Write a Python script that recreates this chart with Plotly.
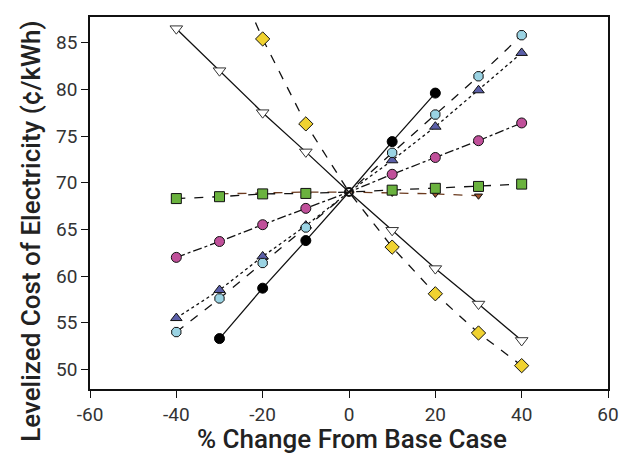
import plotly.graph_objects as go

x_vals = [-40, -30, -20, -10, 0, 10, 20, 30, 40]

black_x = [-30, -20, -10, 0, 10, 20]
black_y = [53.3, 58.7, 63.8, 69.0, 74.4, 79.6]

yellow_x = [-30, -20, -10, 0, 10, 20, 30, 40]
yellow_y = [96.0, 85.4, 76.3, 69.0, 63.1, 58.1, 53.9, 50.4]

tri_down_y = [86.5, 82.0, 77.5, 73.3, 69.0, 64.9, 60.8, 57.0, 53.1]
green_y = [68.3, 68.5, 68.8, 68.85, 69.0, 69.2, 69.4, 69.6, 69.85]
brown_x = [-30, -20, -10, 0, 10, 20, 30]
brown_y = [68.8, 68.9, 69.0, 69.0, 68.9, 68.8, 68.6]
magenta_y = [62.0, 63.7, 65.5, 67.25, 69.0, 70.9, 72.7, 74.5, 76.4]
cyan_y = [54.0, 57.6, 61.4, 65.2, 69.0, 73.2, 77.3, 81.4, 85.8]
blue_y = [55.5, 58.5, 62.1, 65.4, 69.0, 72.4, 76.0, 79.9, 83.9]

base_x = [0]
base_y = [69.0]

x_ticks = [-60, -40, -20, 0, 20, 40, 60]
y_ticks = [50, 55, 60, 65, 70, 75, 80, 85]

x_title = "% Change From Base Case"
y_title = "Levelized Cost of Electricity (¢/kWh)"


def sizes(xs, s):
    return [0 if v == 0 else s for v in xs]


fig = go.Figure()


def add(xs, ys, color, symbol, dash, size=9, lcolor="#111", lw=1.3, mline="#111"):
    fig.add_trace(go.Scatter(
        x=xs, y=ys, mode="lines+markers",
        line=dict(color=lcolor, width=lw, dash=dash),
        marker=dict(symbol=symbol, size=sizes(xs, size), color=color, opacity=1,
                    line=dict(color=mline, width=1)),
        showlegend=False))


add(brown_x, brown_y, "#a0522d", "triangle-down", "dash", size=7, lcolor="#6b3a1e")
add(x_vals, green_y, "#6ab23e", "square", "dash", size=10)
add(x_vals, magenta_y, "#c0509a", "circle", "dashdot", size=10)
add(x_vals, blue_y, "#5b5fa8", "triangle-up", "dot", size=10)
add(x_vals, cyan_y, "#9ad3e3", "octagon", "dash", size=10)
add(black_x, black_y, "#000000", "circle", "solid", size=10, mline="#000")
add(x_vals, tri_down_y, "#ffffff", "triangle-down", "solid", size=11, mline="#333")
add(yellow_x, yellow_y, "#f0d230", "diamond", "dash", size=11)

fig.add_trace(go.Scatter(x=base_x, y=base_y, mode="markers",
                         marker=dict(symbol="circle-open", size=8, color="#111",
                                     line=dict(width=2)),
                         showlegend=False))

tick_font = dict(family="Roboto, Arial, sans-serif", size=19, color="#333")
title_font = dict(family="Roboto, Arial, sans-serif", size=26, color="#222", weight=500)

fig.update_layout(
    width=621, height=455,
    margin=dict(l=90, r=13, t=17, b=66),
    paper_bgcolor="white", plot_bgcolor="white",
    xaxis=dict(range=[-60, 60], tickvals=x_ticks, ticktext=[str(v) for v in x_ticks],
               showgrid=False, zeroline=False, showline=True, linecolor="#111",
               linewidth=1.5, mirror=True, ticks="outside", ticklen=7,
               tickcolor="#111", tickfont=tick_font, automargin=False),
    yaxis=dict(range=[47.9, 87.75], tickvals=y_ticks, ticktext=[str(v) for v in y_ticks],
               showgrid=False, zeroline=False, showline=True, linecolor="#111",
               linewidth=1.5, mirror=True, ticks="outside", ticklen=7,
               tickcolor="#111", tickfont=tick_font, automargin=False),
    annotations=[
        dict(text=x_title, xref="paper", yref="paper", x=0.506, y=-0.134,
             xanchor="center", yanchor="middle", showarrow=False, font=title_font),
        dict(text=y_title, xref="paper", yref="paper", x=-0.114, y=0.425,
             xanchor="center", yanchor="middle", showarrow=False, textangle=-90,
             font=title_font),
    ],
)

fig.write_html("out.html", config={"displayModeBar": False},
               post_script="document.body.style.margin='0';document.body.style.overflow='hidden';")
